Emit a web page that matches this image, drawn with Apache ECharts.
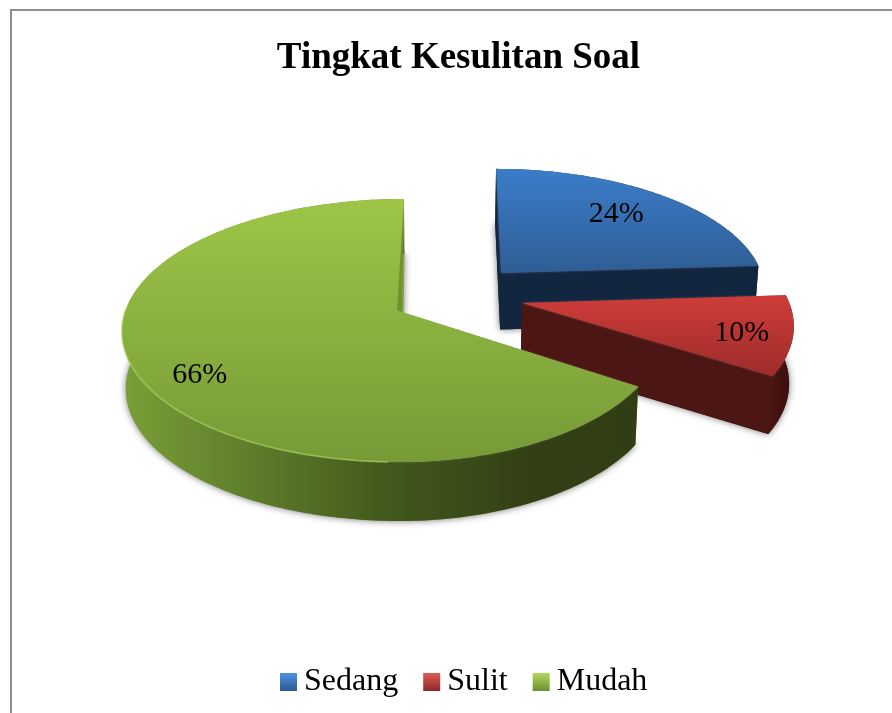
<!DOCTYPE html>
<html>
<head>
<meta charset="utf-8">
<style>html,body{margin:0;padding:0;background:#fff}#main{width:892px;height:713px}</style>
<script src="https://cdn.jsdelivr.net/npm/echarts@6/dist/echarts.min.js"></script>
</head>
<body>
<div id="main"></div>
<script>
const titleText = 'Tingkat Kesulitan Soal';
const categories = ['Sedang', 'Sulit', 'Mudah'];
const values = [24, 10, 66];

// look of each slice, same order as categories
const looks = [
  { xc: 459, y0: -0.316, d: 43.9, fl: 272, fr: 272, labelR: 0.76, nudge: [-8, 2],
    top: ['#3b7dca', '#2f5d94'], wall: [[0, '#12253f'], [1, '#12253f']], cut: '#12263f', icon: ['#4f92e0', '#2c5a92'] },
  { xc: 440, y0: -0.0705, d: 82.8, fl: 270, fr: 270, labelR: 0.83, nudge: [-4, 3],
    top: ['#cf3c39', '#9c2c2a'], wall: [[0, '#4a1512'], [1, '#3c0e0c']], cut: '#4b1614', icon: ['#de5a56', '#8f2926'] },
  { xc: 418, y0: 0, d: -16, fl: 277, fr: 260, labelR: 0.8, nudge: [4, 11],
    top: ['#9dc647', '#769a37'], wall: [[0, '#7a9f37'], [0.25, '#5f7d2b'], [0.5, '#435a1d'], [0.8, '#323f15'], [1, '#313e14']], cut: '#7b9c38', icon: ['#b0d85a', '#6d8f33'] }
];

// projection of the tilted disc
const yc = 312, gy = 128.9, persp = 0.1407;

function project(lk, deg, r) {
  const t = deg * Math.PI / 180;
  const X = Math.sin(t) * r;
  const Y = lk.y0 - Math.cos(t) * r;
  const w = 1 - persp * Y;
  const f = X < 0 ? lk.fl : lk.fr;
  return { x: lk.xc + (lk.d + f * X) / w, y: yc + gy * Y / w, w: w };
}
function lower(p) {
  return [430 + (p.x - 430) * 0.987, p.y + 57 + (1 - p.w) * 14];
}
function arcPts(lk, a0, a1) {
  const pts = [];
  for (let a = a0; a < a1; a += 1) pts.push(project(lk, a, 1));
  pts.push(project(lk, a1, 1));
  return pts;
}
function xy(p) { return [p.x, p.y]; }

const total = values.reduce((a, b) => a + b, 0);
const starts = [];
values.reduce((acc, v, i) => { starts[i] = acc; return acc + v; }, 0);

function vgrad(c) {
  return new echarts.graphic.LinearGradient(0, 0, 0, 1, [{ offset: 0, color: c[0] }, { offset: 1, color: c[1] }]);
}

function renderSlice(idx) {
  return function (params, api) {
    const lk = looks[idx];
    const a0 = starts[idx] / total * 360;
    const a1 = a0 + api.value(0) / total * 360;
    const apex = project(lk, 0, 0);
    const arc = arcPts(lk, a0, a1);
    const low = arc.map(lower);
    const topPts = [xy(apex)].concat(arc.map(xy));
    const bottomPts = [lower(apex)].concat(low);
    const children = [];

    // soft shadow from the underside
    children.push({ type: 'polygon', shape: { points: bottomPts },
      style: { fill: lk.cut, shadowBlur: 7, shadowColor: 'rgba(0,0,0,0.55)' } });
    // the two cut faces
    [arc[0], arc[arc.length - 1]].forEach(function (e) {
      children.push({ type: 'polygon',
        shape: { points: [xy(apex), xy(e), lower(e), lower(apex)] },
        style: { fill: lk.cut } });
    });
    // outer wall
    children.push({ type: 'polygon',
      shape: { points: arc.map(xy).concat(low.slice().reverse()) },
      style: { fill: new echarts.graphic.LinearGradient(0, 0, 1, 0,
        lk.wall.map(s => ({ offset: s[0], color: s[1] }))) } });
    // top
    children.push({ type: 'polygon', shape: { points: topPts },
      style: { fill: vgrad(lk.top), shadowBlur: 2, shadowColor: 'rgba(255,255,255,0.25)' } });

    if (idx === 2) {
      // sliver of the inner face and the light rim on the front edge
      const e = arc[arc.length - 1];
      children.push({ type: 'polygon',
        shape: { points: [[e.x, e.y], [apex.x, apex.y], [apex.x - 5, apex.y - 2]] },
        style: { fill: '#6f9231' } });
      children.push({ type: 'polyline',
        shape: { points: arcPts(lk, 182, 272).map(xy) },
        style: { fill: null, stroke: 'rgba(170,208,90,0.7)', lineWidth: 1.5 } });
    }

    // percent label
    const mid = (a0 + a1) / 2;
    const lp = project(lk, mid, lk.labelR);
    children.push({ type: 'text', x: lp.x + lk.nudge[0], y: lp.y + lk.nudge[1],
      style: { text: api.value(0) + '%', fill: '#000', font: '30px "Liberation Serif"', align: 'center', verticalAlign: 'middle' } });

    return { type: 'group', children: children };
  };
}

const chart = echarts.init(document.getElementById('main'));
chart.setOption({
  animation: false,
  backgroundColor: '#fff',
  title: {
    text: titleText, left: 453.5, top: 35, textAlign: 'center',
    textStyle: { fontFamily: 'Liberation Serif', fontSize: 37, fontWeight: 'bold', color: '#000' }
  },
  legend: {
    data: categories, left: 275, top: 661, itemWidth: 17, itemHeight: 18, itemGap: 25, selectedMode: false,
    icon: 'rect', textStyle: { fontFamily: 'Liberation Serif', fontSize: 32, color: '#000', padding: [0, 0, 0, 2] }
  },
  graphic: [
    { type: 'rect', shape: { x: 10, y: 9, width: 882, height: 2 }, style: { fill: '#8e8e8e' }, silent: true },
    { type: 'rect', shape: { x: 10, y: 9, width: 2, height: 704 }, style: { fill: '#8e8e8e' }, silent: true }
  ],
  series: categories.map((name, i) => ({
    type: 'custom', name: name, coordinateSystem: 'none', silent: true,
    itemStyle: { color: vgrad(looks[i].icon) },
    renderItem: renderSlice(i),
    data: [[values[i]]]
  }))
});
</script>
</body>
</html>
